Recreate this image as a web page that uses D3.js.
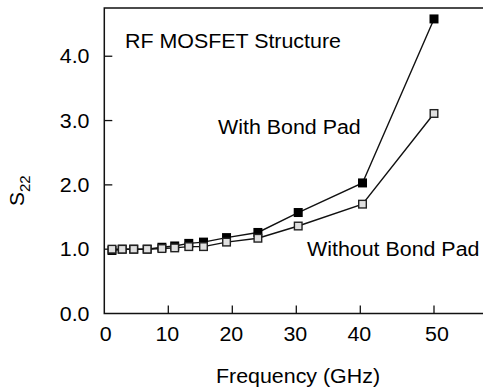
<!DOCTYPE html>
<html>
<head>
<meta charset="utf-8">
<script src="https://cdn.jsdelivr.net/npm/d3@7"></script>
<style>
  html, body { margin: 0; padding: 0; background: #fff; }
  svg { display: block; }
  text { font-family: "Liberation Sans", Arial, sans-serif; fill: #000; }
</style>
</head>
<body>
<svg id="chart" width="483" height="388"></svg>
<script>
// Frequency points (GHz)
const frequency = [1.2, 2.8, 4.6, 6.7, 9.0, 11.0, 13.2, 15.5, 19.1, 24.0, 30.3, 40.3, 50.0];
// S22 magnitude with and without the bond pad
const withBondPad    = [0.98, 1.00, 1.00, 1.00, 1.03, 1.05, 1.09, 1.11, 1.18, 1.26, 1.57, 2.03, 4.58];
const withoutBondPad = [1.00, 1.00, 1.00, 1.00, 1.01, 1.02, 1.04, 1.04, 1.11, 1.17, 1.36, 1.70, 3.11];
// Axis ticks
const xTicks = [0, 10, 20, 30, 40, 50];
const yTicks = [0, 1, 2, 3, 4];

const svg = d3.select("#chart");
const FS = 20, SX = 1.07;   // label font size and horizontal stretch

// Last decade of the frequency axis is drawn slightly wider
const x = d3.scaleLinear().domain([0, 40, 50]).range([104.3, 360.3, 434]);
const y = d3.scaleLinear().domain([0, 4.75]).range([313.5, 8]);

function label(g, tx, ty, str, anchor, size) {
  const t = g.append("g").attr("transform", `translate(${tx},${ty}) scale(${SX},1)`)
    .append("text").attr("font-size", size || FS).attr("text-anchor", anchor || "start");
  t.text(str);
  return t;
}

// Frame: left, top and bottom edges
const frame = svg.append("g").attr("stroke", "#111").attr("stroke-width", 1.5).attr("fill", "none");
frame.append("path").attr("d", `M483,${y.range()[1]}H${x(0)}V${y(0)}H483`);

// Inward ticks
const ax = svg.append("g");
ax.selectAll("line.xt").data(xTicks.slice(1)).join("line")
  .attr("x1", d => x(d)).attr("x2", d => x(d))
  .attr("y1", y(0)).attr("y2", y(0) - 8)
  .attr("stroke", "#111").attr("stroke-width", 1.3);
ax.selectAll("line.yt").data(yTicks.slice(1)).join("line")
  .attr("x1", x(0)).attr("x2", x(0) + 8)
  .attr("y1", d => y(d)).attr("y2", d => y(d))
  .attr("stroke", "#111").attr("stroke-width", 1.3);

// Tick labels
xTicks.forEach(d => label(ax, x(d) + (d === 0 ? 1.5 : (d === 50 ? 3 : -1)), 341, String(d), "middle"));
yTicks.forEach(d => label(ax, 89.5, y(d) + 7, d.toFixed(1), "end"));

// Axis titles
label(svg, 298, 383, "Frequency (GHz)", "middle");
const yl = svg.append("text").attr("font-size", FS + 1)
  .attr("transform", "translate(24,206) rotate(-90)");
yl.append("tspan").text("S");
yl.append("tspan").attr("font-size", 15).attr("dy", 6).text("22");

// Lines and markers
const line = d3.line().x((d, i) => x(frequency[i])).y(d => y(d));
const plot = svg.append("g");
plot.append("path").datum(withBondPad).attr("d", line)
  .attr("fill", "none").attr("stroke", "#111").attr("stroke-width", 1.4);
plot.append("path").datum(withoutBondPad).attr("d", line)
  .attr("fill", "none").attr("stroke", "#111").attr("stroke-width", 1.4);

const S = 9;
plot.selectAll("rect.filled").data(withBondPad).join("rect")
  .attr("x", (d, i) => x(frequency[i]) - S / 2).attr("y", d => y(d) - S / 2)
  .attr("width", S).attr("height", S).attr("fill", "#000");
const so = 7.6;
plot.selectAll("rect.open").data(withoutBondPad).join("rect")
  .attr("x", (d, i) => x(frequency[i]) - so / 2).attr("y", d => y(d) - so / 2)
  .attr("width", so).attr("height", so)
  .attr("fill", "#e0e0e0").attr("stroke", "#222").attr("stroke-width", 1.4);

// Annotations
label(svg, 125, 48, "RF MOSFET Structure");
label(svg, 218, 134, "With Bond Pad");
label(svg, 307, 256, "Without Bond Pad");
</script>
</body>
</html>
